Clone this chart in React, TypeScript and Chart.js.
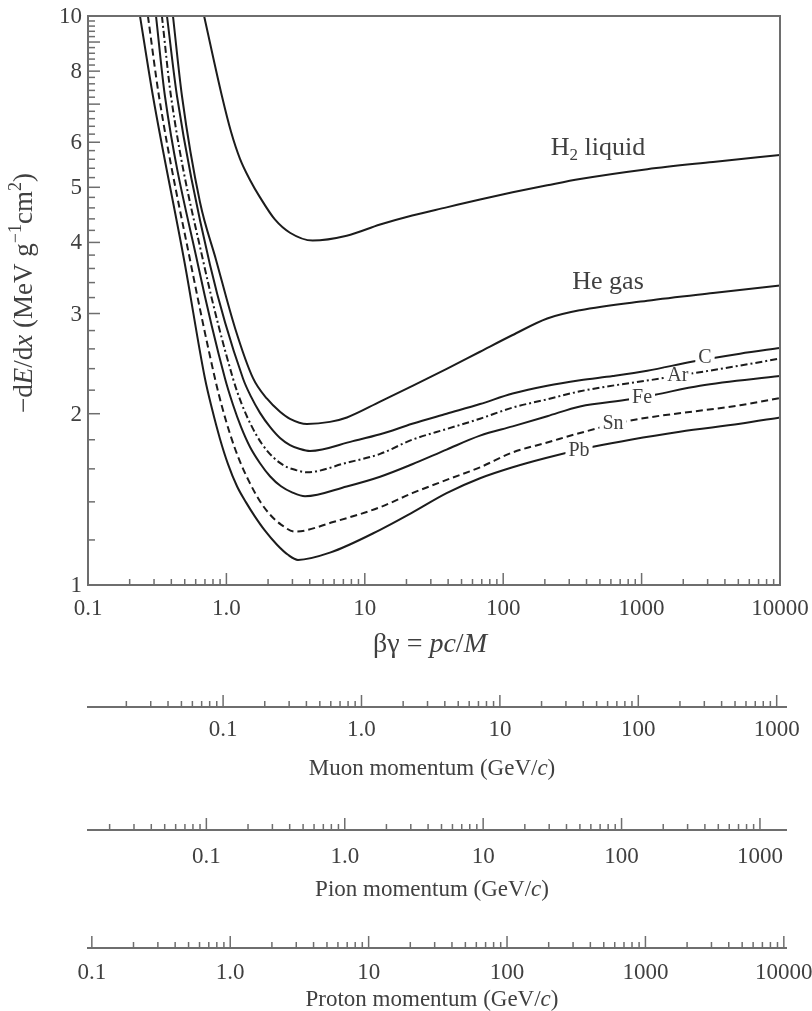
import React, { useEffect, useRef } from 'react';
import { Chart, registerables } from 'chart.js';

Chart.register(...registerables);

// ---------------- data ----------------
const BG_MIN = 0.1;
const BG_MAX = 10000;
const DEDX_MIN = 1;
const DEDX_MAX = 10;

const H2_BG = [0.69, 0.93, 1.08, 1.254, 1.481, 1.75, 2.24, 2.88, 4.2, 7.4, 12.9, 22, 39, 68, 117, 208, 359, 1100, 3280, 10000];
const H2_DEDX = [10, 7.22, 6.26, 5.61, 5.15, 4.8, 4.39, 4.16, 4.03, 4.11, 4.3, 4.46, 4.61, 4.76, 4.9, 5.04, 5.17, 5.38, 5.54, 5.7];

const HE_BG = [0.411, 0.478, 0.644, 0.841, 1.154, 1.557, 1.965, 2.44, 2.881, 3.823, 5.6, 7.43, 12.9, 22.3, 39.4, 68, 117, 208, 359, 1100, 3280, 10000];
const HE_DEDX = [10, 7.22, 4.71, 3.73, 2.83, 2.31, 2.125, 2.016, 1.959, 1.919, 1.935, 1.97, 2.1, 2.24, 2.4, 2.57, 2.75, 2.94, 3.04, 3.16, 3.26, 3.36];

const C_BG = [0.372, 0.44, 0.761, 1.318, 1.506, 1.749, 2.065, 2.44, 2.881, 3.402, 4.018, 8.2, 12.9, 22, 39, 68, 117, 208, 359, 620, 1100, 2350, 5140, 10000];
const C_DEDX = [10, 7.22, 3.655, 2.306, 2.143, 2.007, 1.896, 1.813, 1.762, 1.734, 1.72, 1.79, 1.84, 1.92, 2.0, 2.08, 2.17, 2.24, 2.29, 2.33, 2.38, 2.47, 2.55, 2.61];

const AR_BG = [0.342, 0.398, 0.689, 1.116, 1.296, 1.531, 1.808, 2.171, 2.651, 3.184, 3.823, 7.4, 12.9, 22, 39, 68, 117, 208, 359, 1430, 5140, 10000];
const AR_DEDX = [10, 7.22, 3.655, 2.306, 2.074, 1.896, 1.769, 1.678, 1.618, 1.592, 1.578, 1.64, 1.7, 1.8, 1.88, 1.96, 2.05, 2.12, 2.19, 2.31, 2.43, 2.5];

const FE_BG = [0.31, 0.36, 0.623, 0.977, 1.116, 1.275, 1.481, 1.749, 2.065, 2.481, 2.979, 3.698, 7.4, 12.9, 22, 39, 68, 117, 208, 359, 825, 1250, 2640, 10000];
const FE_DEDX = [10, 7.22, 3.655, 2.306, 2.074, 1.896, 1.748, 1.637, 1.553, 1.491, 1.455, 1.432, 1.49, 1.55, 1.63, 1.73, 1.83, 1.9, 1.98, 2.06, 2.12, 2.16, 2.24, 2.33];

const SN_BG = [0.271, 0.326, 0.555, 0.827, 0.93, 1.062, 1.233, 1.457, 1.749, 2.065, 2.481, 3.132, 5.9, 12.9, 22, 39, 68, 117, 208, 359, 783, 5140, 10000];
const SN_DEDX = [10, 7.22, 3.655, 2.306, 2.057, 1.843, 1.664, 1.521, 1.403, 1.33, 1.277, 1.241, 1.29, 1.37, 1.45, 1.53, 1.61, 1.71, 1.78, 1.85, 1.94, 2.07, 2.13];

const PB_BG = [0.2375, 0.295, 0.502, 0.7, 0.787, 0.899, 1.027, 1.193, 1.386, 1.609, 1.9, 2.321, 2.787, 3.291, 5.6, 12.9, 22, 39, 68, 117, 200, 446, 1890, 5140, 10000];
const PB_DEDX = [10, 7.22, 3.655, 2.306, 2.04, 1.806, 1.631, 1.491, 1.397, 1.319, 1.246, 1.177, 1.13, 1.107, 1.14, 1.25, 1.34, 1.45, 1.54, 1.61, 1.67, 1.75, 1.86, 1.92, 1.97];

const CURVE_NAMES = ['H2 liquid', 'He gas', 'C', 'Ar', 'Fe', 'Sn', 'Pb'];
const CURVE_BG = [H2_BG, HE_BG, C_BG, AR_BG, FE_BG, SN_BG, PB_BG];
const CURVE_DEDX = [H2_DEDX, HE_DEDX, C_DEDX, AR_DEDX, FE_DEDX, SN_DEDX, PB_DEDX];
const CURVE_DASH: number[][] = [[], [], [], [7, 3, 2, 3], [], [7, 4], []];

// curve label anchors (data coordinates)
const LABEL_BG = [484, 572, 2870, 1830, 1007, 621, 353];
const LABEL_DEDX = [5.86, 3.4, 2.51, 2.33, 2.13, 1.92, 1.72];

// axis ticks
const X_TICKS = [0.1, 1, 10, 100, 1000, 10000];
const X_TICK_LABELS = ['0.1', '1.0', '10', '100', '1000', '10000'];
const Y_TICKS = [1, 2, 3, 4, 5, 6, 8, 10];
const Y_TICK_LABELS = ['1', '2', '3', '4', '5', '6', '8', '10'];

const MUON_MASS = 0.10566;
const PION_MASS = 0.13957;
const PROTON_MASS = 0.93827;
const MUON_TICKS = [0.1, 1, 10, 100, 1000];
const MUON_TICK_LABELS = ['0.1', '1.0', '10', '100', '1000'];
const PION_TICKS = [0.1, 1, 10, 100, 1000];
const PION_TICK_LABELS = ['0.1', '1.0', '10', '100', '1000'];
const PROTON_TICKS = [0.1, 1, 10, 100, 1000, 10000];
const PROTON_TICK_LABELS = ['0.1', '1.0', '10', '100', '1000', '10000'];

// ---------------- style ----------------
const SERIF = '"Liberation Serif", "Times New Roman", serif';
const INK = '#1c1c1c';
const TEXT = '#404040';
const AXIS = '#6e6e6e';
const TICK_FONT = 23;

type Seg = { t: string; italic?: boolean; sub?: boolean; sup?: boolean };

function drawRich(
  ctx: CanvasRenderingContext2D,
  segs: Seg[],
  cx: number,
  cy: number,
  size: number,
  color: string,
  knockout = false,
  rotate = 0
) {
  ctx.save();
  const fontFor = (s: Seg) =>
    `${s.italic ? 'italic ' : ''}${s.sub || s.sup ? Math.round(size * 0.66) : size}px ${SERIF}`;
  let total = 0;
  const widths = segs.map((s) => {
    ctx.font = fontFor(s);
    const w = ctx.measureText(s.t).width;
    total += w;
    return w;
  });
  ctx.translate(cx, cy);
  if (rotate) ctx.rotate(rotate);
  const x0 = -total / 2;
  if (knockout) {
    ctx.fillStyle = '#ffffff';
    ctx.fillRect(x0 - 3, -size * 0.38, total + 6, size * 0.76);
  }
  ctx.fillStyle = color;
  ctx.textBaseline = 'middle';
  ctx.textAlign = 'left';
  let x = x0;
  segs.forEach((s, i) => {
    ctx.font = fontFor(s);
    const dy = s.sub ? size * 0.3 : s.sup ? -size * 0.32 : 0;
    ctx.fillText(s.t, x, dy);
    x += widths[i];
  });
  ctx.restore();
}

function logTicks(min: number, max: number): number[] {
  const out: number[] = [];
  for (let e = Math.floor(Math.log10(min)) - 1; e <= Math.ceil(Math.log10(max)); e++) {
    for (let m = 1; m <= 9; m++) {
      const v = m * Math.pow(10, e);
      if (v >= min * 0.99999 && v <= max * 1.00001) out.push(v);
    }
  }
  return out;
}

const isDecade = (v: number) => Math.abs(Math.log10(v) - Math.round(Math.log10(v))) < 1e-6;

const LABEL_SEGS: Seg[][] = [
  [{ t: 'H' }, { t: '2', sub: true }, { t: ' liquid' }],
  [{ t: 'He gas' }],
  [{ t: 'C' }],
  [{ t: 'Ar' }],
  [{ t: 'Fe' }],
  [{ t: 'Sn' }],
  [{ t: 'Pb' }],
];
const LABEL_KNOCK = [false, false, true, true, true, true, true];
const LABEL_SIZE = [26, 26, 20, 20, 20, 20, 20];

function drawXTicks(ctx: CanvasRenderingContext2D, xs: any, bottom: number) {
  ctx.save();
  ctx.strokeStyle = AXIS;
  ctx.lineWidth = 1.5;
  xs.ticks.forEach((t: any) => {
    const px = xs.getPixelForValue(t.value);
    const len = isDecade(t.value) ? 12 : 6;
    ctx.beginPath();
    ctx.moveTo(px, bottom);
    ctx.lineTo(px, bottom - len);
    ctx.stroke();
  });
  ctx.restore();
}

function drawXLabels(ctx: CanvasRenderingContext2D, xs: any, y: number, ticks: number[], labels: string[]) {
  ctx.save();
  ctx.fillStyle = TEXT;
  ctx.font = `${TICK_FONT}px ${SERIF}`;
  ctx.textAlign = 'center';
  ctx.textBaseline = 'middle';
  ticks.forEach((v, i) => {
    ctx.fillText(labels[i], xs.getPixelForValue(v), y);
  });
  ctx.restore();
}

function makeMain(canvas: HTMLCanvasElement) {
  const yMinor: number[] = [];
  for (let i = 0; i <= 45; i++) yMinor.push(+(1 + 0.2 * i).toFixed(2));
  const xMinor = logTicks(BG_MIN, BG_MAX);

  const decor = {
    id: 'mainDecor',
    afterDatasetsDraw(chart: any) {
      const { ctx, scales } = chart;
      const xs = scales.x;
      const ys = scales.y;
      CURVE_NAMES.forEach((_, i) => {
        const px = xs.getPixelForValue(LABEL_BG[i]);
        const py = ys.getPixelForValue(LABEL_DEDX[i]);
        drawRich(ctx, LABEL_SEGS[i], px, py, LABEL_SIZE[i], TEXT, LABEL_KNOCK[i]);
      });
    },
    afterDraw(chart: any) {
      const { ctx, chartArea: a, scales } = chart;
      const xs = scales.x;
      const ys = scales.y;
      ctx.save();
      ctx.strokeStyle = AXIS;
      ctx.lineWidth = 2;
      ctx.beginPath();
      ctx.moveTo(a.left, a.top);
      ctx.lineTo(a.right, a.top);
      ctx.lineTo(a.right, a.bottom);
      ctx.stroke();
      ctx.lineWidth = 1.5;
      ys.ticks.forEach((t: any) => {
        const py = ys.getPixelForValue(t.value);
        const major = Math.abs(t.value - Math.round(t.value)) < 1e-6;
        const len = major ? 12 : 7;
        ctx.beginPath();
        ctx.moveTo(a.left, py);
        ctx.lineTo(a.left + len, py);
        ctx.stroke();
      });
      ctx.restore();
      drawXTicks(ctx, xs, a.bottom);
      drawXLabels(ctx, xs, a.bottom + 24, X_TICKS, X_TICK_LABELS);
      ctx.save();
      ctx.fillStyle = TEXT;
      ctx.font = `${TICK_FONT}px ${SERIF}`;
      ctx.textAlign = 'right';
      ctx.textBaseline = 'middle';
      Y_TICKS.forEach((v, i) => {
        ctx.fillText(Y_TICK_LABELS[i], a.left - 6, ys.getPixelForValue(v) + 1);
      });
      ctx.restore();
      drawRich(
        ctx,
        [{ t: 'βγ = ' }, { t: 'pc', italic: true }, { t: '/' }, { t: 'M', italic: true }],
        430,
        a.bottom + 60,
        28,
        TEXT
      );
      drawRich(
        ctx,
        [
          { t: '−d' },
          { t: 'E', italic: true },
          { t: '/d' },
          { t: 'x', italic: true },
          { t: ' (MeV g' },
          { t: '−1', sup: true },
          { t: 'cm' },
          { t: '2', sup: true },
          { t: ')' },
        ],
        25,
        293,
        27,
        TEXT,
        false,
        -Math.PI / 2
      );
    },
  };

  return new Chart(canvas, {
    type: 'line',
    data: {
      datasets: CURVE_NAMES.map((name, i) => ({
        label: name,
        data: CURVE_BG[i].map((x, j) => ({ x, y: CURVE_DEDX[i][j] })),
        borderColor: INK,
        borderWidth: 2,
        borderDash: CURVE_DASH[i],
        pointRadius: 0,
        fill: false,
        cubicInterpolationMode: 'monotone' as const,
      })),
    },
    options: {
      animation: false,
      responsive: false,
      maintainAspectRatio: false,
      layout: { padding: { left: 0, right: 32, top: 16, bottom: 0 } },
      plugins: { legend: { display: false }, tooltip: { enabled: false } },
      scales: {
        x: {
          type: 'logarithmic',
          min: BG_MIN,
          max: BG_MAX,
          afterBuildTicks: (s: any) => {
            s.ticks = xMinor.map((v) => ({ value: v }));
          },
          afterFit: (s: any) => {
            s.height = 95;
          },
          ticks: { display: false },
          grid: { display: false, drawTicks: false },
          border: { display: true, color: AXIS, width: 2 },
        },
        y: {
          type: 'logarithmic',
          min: DEDX_MIN,
          max: DEDX_MAX,
          afterBuildTicks: (s: any) => {
            s.ticks = yMinor.map((v) => ({ value: v }));
          },
          afterFit: (s: any) => {
            s.width = 88;
          },
          ticks: { display: false },
          grid: { display: false, drawTicks: false },
          border: { display: true, color: AXIS, width: 2 },
        },
      },
    },
    plugins: [decor],
  } as any);
}

function makeMomentumAxis(
  canvas: HTMLCanvasElement,
  mass: number,
  ticks: number[],
  labels: string[],
  title: string,
  labelOffset: number,
  titleY: number
) {
  const H = canvas.height;
  const pMin = BG_MIN * mass;
  // axis spans 88..786 px, slightly past the main frame, at the same px/decade
  const pMax = BG_MIN * mass * Math.pow(10, 698 / 138.4);
  const all = logTicks(pMin, pMax);
  const deco = {
    id: 'axisDecor',
    afterDraw(chart: any) {
      const { ctx, chartArea: a, scales } = chart;
      const xs = scales.x;
      drawXTicks(ctx, xs, a.bottom);
      drawXLabels(ctx, xs, a.bottom + labelOffset, ticks, labels);
      drawRich(
        ctx,
        [{ t: title + ' momentum (GeV/' }, { t: 'c', italic: true }, { t: ')' }],
        432,
        titleY,
        23,
        TEXT
      );
    },
  };
  return new Chart(canvas, {
    type: 'line',
    data: { datasets: [] },
    options: {
      animation: false,
      responsive: false,
      maintainAspectRatio: false,
      layout: { padding: { left: 88, right: 26, top: 7, bottom: 0 } },
      plugins: { legend: { display: false }, tooltip: { enabled: false } },
      scales: {
        x: {
          type: 'logarithmic',
          min: pMin,
          max: pMax,
          afterBuildTicks: (s: any) => {
            s.ticks = all.map((v) => ({ value: v }));
          },
          afterFit: (s: any) => {
            s.height = H - 17;
          },
          ticks: { display: false },
          grid: { display: false, drawTicks: false },
          border: { display: true, color: AXIS, width: 2 },
        },
        y: { display: false, min: 0, max: 1 },
      },
    },
    plugins: [deco],
  } as any);
}

export default function App() {
  const mainRef = useRef<HTMLCanvasElement>(null);
  const muonRef = useRef<HTMLCanvasElement>(null);
  const pionRef = useRef<HTMLCanvasElement>(null);
  const protonRef = useRef<HTMLCanvasElement>(null);

  useEffect(() => {
    const charts: Chart[] = [];
    charts.push(makeMain(mainRef.current!));
    charts.push(makeMomentumAxis(muonRef.current!, MUON_MASS, MUON_TICKS, MUON_TICK_LABELS, 'Muon', 23, 79));
    charts.push(makeMomentumAxis(pionRef.current!, PION_MASS, PION_TICKS, PION_TICK_LABELS, 'Pion', 27, 77));
    charts.push(
      makeMomentumAxis(protonRef.current!, PROTON_MASS, PROTON_TICKS, PROTON_TICK_LABELS, 'Proton', 25, 69)
    );
    return () => charts.forEach((c) => c.destroy());
  }, []);

  const cs = (top: number): React.CSSProperties => ({ position: 'absolute', left: 0, top, display: 'block' });
  return (
    <div
      style={{
        position: 'absolute',
        left: 0,
        top: 0,
        width: 812,
        height: 1011,
        background: '#ffffff',
        overflow: 'hidden',
      }}
    >
      <canvas ref={mainRef} width={812} height={680} style={cs(0)} />
      <canvas ref={muonRef} width={812} height={100} style={cs(690)} />
      <canvas ref={pionRef} width={812} height={100} style={cs(813)} />
      <canvas ref={protonRef} width={812} height={80} style={cs(931)} />
    </div>
  );
}
